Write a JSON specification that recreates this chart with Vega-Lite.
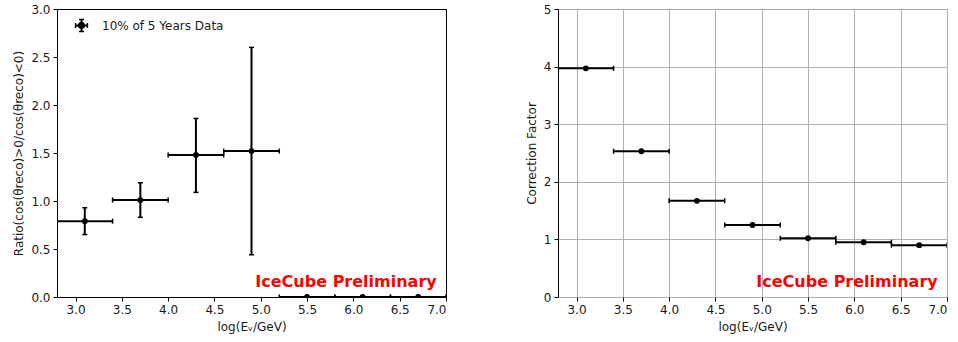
{
  "$schema": "https://vega.github.io/schema/vega-lite/v6.json",
  "background": "white",
  "padding": {"left": 12, "top": 2, "right": 5, "bottom": 5},
  "config": {
    "font": "DejaVu Sans",
    "view": {"stroke": "black", "strokeWidth": 1},
    "axis": {
      "domain": false,
      "grid": false,
      "tickColor": "black",
      "tickSize": 4,
      "tickWidth": 1,
      "labelFont": "DejaVu Sans",
      "labelFontSize": 12,
      "labelColor": "#1a1a1a",
      "labelPadding": 3,
      "titleFont": "DejaVu Sans",
      "titleFontSize": 12,
      "titleFontWeight": "normal",
      "titleColor": "#1a1a1a",
      "titlePadding": 5,
      "gridColor": "#b0b0b0",
      "gridWidth": 1,
      "gridOpacity": 1
    },
    "axisX": {"titlePadding": 6},
    "concat": {"spacing": 77}
  },
  "datasets": {
    "ratio": [
      {"logE": 3.1, "binLo": 2.8, "binHi": 3.4, "ratio": 0.79, "errLo": 0.65, "errHi": 0.93, "series": "10% of 5 Years Data"},
      {"logE": 3.7, "binLo": 3.4, "binHi": 4.0, "ratio": 1.01, "errLo": 0.83, "errHi": 1.19, "series": "10% of 5 Years Data"},
      {"logE": 4.3, "binLo": 4.0, "binHi": 4.6, "ratio": 1.48, "errLo": 1.09, "errHi": 1.86, "series": "10% of 5 Years Data"},
      {"logE": 4.9, "binLo": 4.6, "binHi": 5.2, "ratio": 1.52, "errLo": 0.44, "errHi": 2.60, "series": "10% of 5 Years Data"},
      {"logE": 5.5, "binLo": 5.2, "binHi": 5.8, "ratio": 0.0, "errLo": null, "errHi": null, "series": "10% of 5 Years Data"},
      {"logE": 6.1, "binLo": 5.8, "binHi": 6.4, "ratio": 0.0, "errLo": null, "errHi": null, "series": "10% of 5 Years Data"},
      {"logE": 6.7, "binLo": 6.4, "binHi": 7.0, "ratio": 0.0, "errLo": null, "errHi": null, "series": "10% of 5 Years Data"}
    ],
    "correction": [
      {"logE": 3.1, "binLo": 2.8, "binHi": 3.4, "factor": 3.97},
      {"logE": 3.7, "binLo": 3.4, "binHi": 4.0, "factor": 2.53},
      {"logE": 4.3, "binLo": 4.0, "binHi": 4.6, "factor": 1.67},
      {"logE": 4.9, "binLo": 4.6, "binHi": 5.2, "factor": 1.25},
      {"logE": 5.5, "binLo": 5.2, "binHi": 5.8, "factor": 1.02},
      {"logE": 6.1, "binLo": 5.8, "binHi": 6.4, "factor": 0.95},
      {"logE": 6.7, "binLo": 6.4, "binHi": 7.0, "factor": 0.90}
    ]
  },
  "resolve": {"scale": {"color": "independent"}, "legend": {"color": "independent"}},
  "hconcat": [
    {
      "width": 389,
      "height": 288,
      "data": {"name": "ratio"},
      "layer": [
        {
          "mark": {"type": "rule", "color": "black", "strokeWidth": 2, "clip": true},
          "encoding": {
            "x": {"field": "binLo", "type": "quantitative", "title": "log(Eᵥ/GeV)", "scale": {"domain": [2.8, 7.0], "nice": false, "zero": false}, "axis": {"values": [3, 3.5, 4, 4.5, 5, 5.5, 6, 6.5, 7], "format": ".1f"}},
            "x2": {"field": "binHi"},
            "y": {"field": "ratio", "type": "quantitative", "title": "Ratio(cos(θreco)>0/cos(θreco)<0)", "scale": {"domain": [0, 3], "nice": false}, "axis": {"values": [0, 0.5, 1, 1.5, 2, 2.5, 3], "format": ".1f"}}
          }
        },
        {
          "mark": {"type": "rule", "color": "black", "strokeWidth": 2, "clip": true},
          "encoding": {
            "x": {"field": "logE", "type": "quantitative", "title": "log(Eᵥ/GeV)"},
            "y": {"field": "errLo", "type": "quantitative", "title": "Ratio(cos(θreco)>0/cos(θreco)<0)"},
            "y2": {"field": "errHi"}
          }
        },
        {
          "mark": {"type": "tick", "orient": "vertical", "color": "black", "size": 5, "thickness": 1.5, "opacity": 1, "clip": true},
          "encoding": {
            "x": {"field": "binLo", "type": "quantitative", "title": "log(Eᵥ/GeV)"},
            "y": {"field": "ratio", "type": "quantitative", "title": "Ratio(cos(θreco)>0/cos(θreco)<0)"}
          }
        },
        {
          "mark": {"type": "tick", "orient": "vertical", "color": "black", "size": 5, "thickness": 1.5, "opacity": 1, "clip": true},
          "encoding": {
            "x": {"field": "binHi", "type": "quantitative", "title": "log(Eᵥ/GeV)"},
            "y": {"field": "ratio", "type": "quantitative", "title": "Ratio(cos(θreco)>0/cos(θreco)<0)"}
          }
        },
        {
          "mark": {"type": "tick", "orient": "horizontal", "color": "black", "size": 5, "thickness": 1.5, "opacity": 1, "clip": true},
          "encoding": {
            "x": {"field": "logE", "type": "quantitative", "title": "log(Eᵥ/GeV)"},
            "y": {"field": "errLo", "type": "quantitative", "title": "Ratio(cos(θreco)>0/cos(θreco)<0)"}
          }
        },
        {
          "mark": {"type": "tick", "orient": "horizontal", "color": "black", "size": 5, "thickness": 1.5, "opacity": 1, "clip": true},
          "encoding": {
            "x": {"field": "logE", "type": "quantitative", "title": "log(Eᵥ/GeV)"},
            "y": {"field": "errHi", "type": "quantitative", "title": "Ratio(cos(θreco)>0/cos(θreco)<0)"}
          }
        },
        {
          "mark": {"type": "point", "shape": "circle", "filled": true, "size": 34, "opacity": 1, "clip": true},
          "encoding": {
            "x": {"field": "logE", "type": "quantitative", "title": "log(Eᵥ/GeV)"},
            "y": {"field": "ratio", "type": "quantitative", "title": "Ratio(cos(θreco)>0/cos(θreco)<0)"},
            "color": {
              "field": "series",
              "type": "nominal",
              "scale": {"range": ["black"]},
              "legend": {
                "title": null,
                "orient": "none",
                "legendX": 17,
                "legendY": 9,
                "padding": 0,
                "symbolType": "M-1,-0.15H1V0.15H-1ZM-0.15,-1H0.15V1H-0.15ZM-1,-0.38H-0.78V0.38H-1ZM0.78,-0.38H1V0.38H0.78ZM-0.38,-1H0.38V-0.78H-0.38ZM-0.38,0.78H0.38V1H-0.38ZM0.55,0A0.55,0.55,0,1,1,-0.55,0A0.55,0.55,0,1,1,0.55,0Z",
                "symbolSize": 177,
                "labelFont": "DejaVu Sans",
                "labelFontSize": 12,
                "labelColor": "#1a1a1a",
                "labelOffset": 13,
                "encode": {
                  "symbols": {
                    "update": {
                      "shape": {"value": "M-1,-0.15H1V0.15H-1ZM-0.15,-1H0.15V1H-0.15ZM-1,-0.38H-0.78V0.38H-1ZM0.78,-0.38H1V0.38H0.78ZM-0.38,-1H0.38V-0.78H-0.38ZM-0.38,0.78H0.38V1H-0.38ZM0.55,0A0.55,0.55,0,1,1,-0.55,0A0.55,0.55,0,1,1,0.55,0Z"},
                      "size": {"value": 177},
                      "fill": {"value": "black"},
                      "fillOpacity": {"value": 1},
                      "opacity": {"value": 1}
                    }
                  }
                }
              }
            }
          }
        },
        {
          "data": {"values": [{"label": "IceCube Preliminary"}]},
          "mark": {"type": "text", "align": "right", "baseline": "alphabetic", "font": "DejaVu Sans", "fontSize": 16, "fontWeight": "bold", "color": "#ff0000"},
          "encoding": {
            "x": {"datum": 6.9, "type": "quantitative", "title": "log(Eᵥ/GeV)"},
            "y": {"datum": 0.1, "type": "quantitative", "title": "Ratio(cos(θreco)>0/cos(θreco)<0)"},
            "text": {"field": "label"}
          }
        }
      ]
    },
    {
      "width": 389,
      "height": 288,
      "data": {"name": "correction"},
      "layer": [
        {
          "mark": {"type": "rule", "color": "black", "strokeWidth": 2, "clip": true},
          "encoding": {
            "x": {"field": "binLo", "type": "quantitative", "title": "log(Eᵥ/GeV)", "scale": {"domain": [2.8, 7.0], "nice": false, "zero": false}, "axis": {"values": [3, 3.5, 4, 4.5, 5, 5.5, 6, 6.5, 7], "format": ".1f", "grid": true}},
            "x2": {"field": "binHi"},
            "y": {"field": "factor", "type": "quantitative", "title": "Correction Factor", "scale": {"domain": [0, 5], "nice": false}, "axis": {"values": [0, 1, 2, 3, 4, 5], "format": "d", "grid": true}}
          }
        },
        {
          "mark": {"type": "tick", "orient": "vertical", "color": "black", "size": 5, "thickness": 1.5, "opacity": 1, "clip": true},
          "encoding": {
            "x": {"field": "binLo", "type": "quantitative", "title": "log(Eᵥ/GeV)"},
            "y": {"field": "factor", "type": "quantitative", "title": "Correction Factor"}
          }
        },
        {
          "mark": {"type": "tick", "orient": "vertical", "color": "black", "size": 5, "thickness": 1.5, "opacity": 1, "clip": true},
          "encoding": {
            "x": {"field": "binHi", "type": "quantitative", "title": "log(Eᵥ/GeV)"},
            "y": {"field": "factor", "type": "quantitative", "title": "Correction Factor"}
          }
        },
        {
          "mark": {"type": "point", "shape": "circle", "filled": true, "size": 34, "opacity": 1, "color": "black", "clip": true},
          "encoding": {
            "x": {"field": "logE", "type": "quantitative", "title": "log(Eᵥ/GeV)"},
            "y": {"field": "factor", "type": "quantitative", "title": "Correction Factor"}
          }
        },
        {
          "data": {"values": [{"label": "IceCube Preliminary"}]},
          "mark": {"type": "text", "align": "right", "baseline": "alphabetic", "font": "DejaVu Sans", "fontSize": 16, "fontWeight": "bold", "color": "#ff0000"},
          "encoding": {
            "x": {"datum": 6.9, "type": "quantitative", "title": "log(Eᵥ/GeV)"},
            "y": {"datum": 0.165, "type": "quantitative", "title": "Correction Factor"},
            "text": {"field": "label"}
          }
        }
      ]
    }
  ]
}
